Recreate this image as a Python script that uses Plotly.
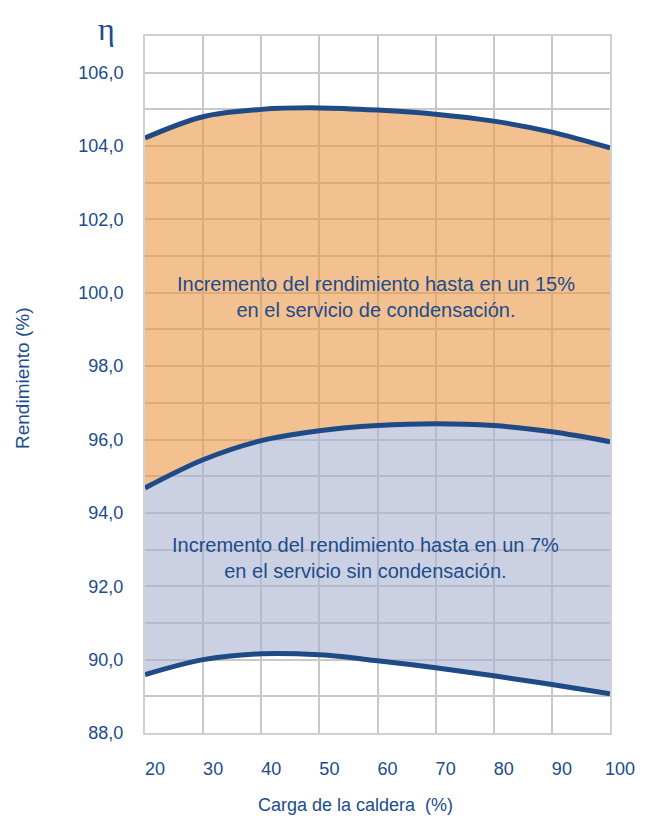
import plotly.graph_objects as go

carga = [20, 30, 40, 50, 60, 70, 80, 90, 100]
curva_condensacion = [104.22, 104.80, 105.00, 105.04, 104.98, 104.87, 104.68, 104.38, 103.95]
curva_sin_condensacion = [94.68, 95.45, 95.97, 96.24, 96.38, 96.43, 96.38, 96.21, 95.94]
curva_convencional = [89.59, 90.00, 90.16, 90.13, 89.97, 89.78, 89.56, 89.32, 89.07]

x_ticks = [20, 30, 40, 50, 60, 70, 80, 90, 100]
y_grid = list(range(88, 108))
y_labels = {v: f"{v},0" for v in range(88, 107, 2)}

TXT = "#1b4c8c"
LINE = "#1e4a86"
FONT = "Liberation Sans, Arial, sans-serif"

# page offset (body margin) of 8px
OFF = 8
L, T, R, B = 145 - OFF, 36 - OFF, 610 - OFF, 733 - OFF
PW, PH = R - L, B - T

fig = go.Figure()
fig.add_trace(go.Scatter(x=carga, y=curva_convencional, mode="lines",
                         line=dict(color="rgba(0,0,0,0)", width=0, shape="spline"),
                         hoverinfo="skip", showlegend=False))
fig.add_trace(go.Scatter(x=carga, y=curva_sin_condensacion, mode="lines",
                         line=dict(color="rgba(0,0,0,0)", width=0, shape="spline"),
                         fill="tonexty", fillcolor="rgba(168,178,207,0.6)",
                         hoverinfo="skip", showlegend=False))
fig.add_trace(go.Scatter(x=carga, y=curva_condensacion, mode="lines",
                         line=dict(color="rgba(0,0,0,0)", width=0, shape="spline"),
                         fill="tonexty", fillcolor="rgba(235,150,68,0.6)",
                         hoverinfo="skip", showlegend=False))
for ys in (curva_convencional, curva_sin_condensacion, curva_condensacion):
    fig.add_trace(go.Scatter(x=carga, y=ys, mode="lines",
                             line=dict(color=LINE, width=5, shape="spline"),
                             showlegend=False))

fig.add_annotation(x=59.7, y=99.89, xref="x", yref="y",
                   text="Incremento del rendimiento hasta en un 15%<br>en el servicio de condensación.",
                   showarrow=False, font=dict(family=FONT, size=20, color=TXT), align="center")
fig.add_annotation(x=58.0, y=92.76, xref="x", yref="y",
                   text="Incremento del rendimiento hasta en un 7%<br>en el servicio sin condensación.",
                   showarrow=False, font=dict(family=FONT, size=20, color=TXT), align="center")

fig.add_annotation(x=(355 - 145) / PW, y=-(805 - 733) / PH, xref="paper", yref="paper",
                   text="Carga de la caldera  (%)", showarrow=False,
                   font=dict(family=FONT, size=18, color=TXT), xanchor="center", yanchor="middle")
fig.add_annotation(x=-(145 - 22) / PW, y=(733 - 378) / PH, xref="paper", yref="paper",
                   text="Rendimiento (%)", showarrow=False, textangle=-90,
                   font=dict(family=FONT, size=19, color=TXT), xanchor="center", yanchor="middle")
fig.add_annotation(x=-(145 - 106) / PW, y=1 + (T - 1) / PH, xref="paper", yref="paper",
                   text="η", showarrow=False,
                   font=dict(family="Liberation Serif, DejaVu Serif, serif", size=32, color=TXT),
                   xanchor="center", yanchor="top")

fig.update_xaxes(range=[20, 100], tickvals=x_ticks, ticktext=[str(v) for v in x_ticks],
                 ticklabelshift=10, ticks="outside", ticklen=18, tickcolor="rgba(0,0,0,0)",
                 showgrid=True, gridcolor="#c8c8c8", gridwidth=2, zeroline=False,
                 showline=True, mirror=True, linecolor="#d0d0d0", linewidth=2,
                 tickfont=dict(family=FONT, size=18, color=TXT))
fig.update_yaxes(range=[88, 107], tickvals=y_grid,
                 ticktext=[y_labels.get(v, "") for v in y_grid],
                 ticks="outside", ticklen=16, tickcolor="rgba(0,0,0,0)",
                 showgrid=True, gridcolor="#c8c8c8", gridwidth=2, zeroline=False,
                 showline=True, mirror=True, linecolor="#d0d0d0", linewidth=2,
                 tickfont=dict(family=FONT, size=18, color=TXT))

fig.update_layout(width=652, height=816, margin=dict(l=L, r=652 - R, t=T, b=816 - B),
                  paper_bgcolor="white", plot_bgcolor="white", showlegend=False)

fig.write_html("out.html")
